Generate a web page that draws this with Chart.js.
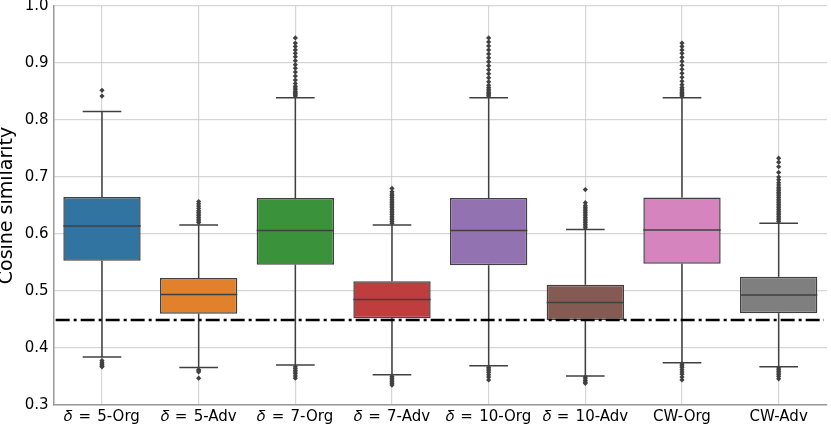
<!DOCTYPE html>
<html>
<head>
<meta charset="utf-8">
<script src="https://cdn.jsdelivr.net/npm/chart.js@4"></script>
<style>
  html, body { margin: 0; padding: 0; background: #fff; overflow: hidden; }
  #outer { position: relative; width: 831px; height: 427px; overflow: hidden; }
  #wrap { position: absolute; left: -4px; top: -8px; width: 835px; height: 437px; }
</style>
</head>
<body>
<div id="outer"><div id="wrap"><canvas id="boxChart"></canvas></div></div>
<script>
// categories and box statistics
const categories = ['\u{1D6FF} \u200A= \u200A5-Org', '\u{1D6FF} \u200A= \u200A5-Adv', '\u{1D6FF} \u200A= \u200A7-Org', '\u{1D6FF} \u200A= \u200A7-Adv',
                    '\u{1D6FF} \u200A= \u200A10-Org', '\u{1D6FF} \u200A= \u200A10-Adv', 'CW-Org', 'CW-Adv'];
const q1         = [0.553, 0.460, 0.546, 0.452, 0.545, 0.449, 0.548, 0.461];
const medians    = [0.614, 0.494, 0.606, 0.485, 0.606, 0.480, 0.607, 0.493];
const q3         = [0.665, 0.523, 0.663, 0.517, 0.663, 0.511, 0.664, 0.525];
const whiskerLow = [0.384, 0.366, 0.370, 0.353, 0.369, 0.351, 0.374, 0.367];
const whiskerHigh= [0.815, 0.616, 0.839, 0.616, 0.839, 0.608, 0.839, 0.619];
const outliers = [
  [0.842, 0.852, 0.378, 0.375, 0.372, 0.370, 0.368, 0.367],
  [0.620, 0.623, 0.626, 0.629, 0.632, 0.635, 0.638, 0.641, 0.645, 0.649, 0.653, 0.657,
   0.362, 0.360, 0.358, 0.347],
  [0.842, 0.844, 0.846, 0.848, 0.850, 0.853, 0.856, 0.859, 0.864, 0.870, 0.877, 0.884,
   0.891, 0.897, 0.904, 0.911, 0.917, 0.923, 0.929, 0.935, 0.944,
   0.367, 0.364, 0.361, 0.358, 0.355, 0.351, 0.347],
  [0.619, 0.622, 0.625, 0.628, 0.631, 0.634, 0.637, 0.640, 0.643, 0.646, 0.649, 0.652,
   0.655, 0.658, 0.661, 0.664, 0.667, 0.670, 0.674, 0.680,
   0.350, 0.347, 0.344, 0.341, 0.338, 0.335],
  [0.842, 0.844, 0.846, 0.848, 0.851, 0.854, 0.857, 0.861, 0.867, 0.874, 0.881, 0.888,
   0.895, 0.902, 0.909, 0.916, 0.923, 0.930, 0.937, 0.944,
   0.366, 0.363, 0.360, 0.357, 0.353, 0.349, 0.344],
  [0.611, 0.614, 0.617, 0.620, 0.623, 0.626, 0.629, 0.632, 0.635, 0.638, 0.641, 0.644,
   0.647, 0.650, 0.655, 0.678,
   0.349, 0.346, 0.343, 0.340, 0.338],
  [0.842, 0.844, 0.846, 0.848, 0.851, 0.854, 0.857, 0.862, 0.868, 0.875, 0.882, 0.889,
   0.896, 0.903, 0.910, 0.917, 0.923, 0.929, 0.935,
   0.372, 0.369, 0.366, 0.362, 0.358, 0.354, 0.349, 0.344],
  [0.622, 0.625, 0.628, 0.631, 0.634, 0.637, 0.640, 0.643, 0.646, 0.649, 0.652, 0.655,
   0.658, 0.661, 0.664, 0.667, 0.670, 0.673, 0.676, 0.679, 0.682, 0.686, 0.690, 0.695,
   0.700, 0.708, 0.718, 0.726, 0.733,
   0.365, 0.362, 0.359, 0.356, 0.353, 0.350, 0.346]
];
const threshold = 0.449;
const boxColors = ['#3274a1', '#e1812c', '#3a923a', '#c03d3e', '#9372b2', '#845b53', '#d684bd', '#7f7f7f'];

const lineColor = '#404040';

let boxRanges = categories.map((c, i) => [q1[i], q3[i]]);
let outlierPoints = [];
outliers.forEach((vals, i) => {
    vals.forEach(v => outlierPoints.push({ x: categories[i], y: v }));
});

// whiskers, caps, medians and the dash-dot threshold line
const boxExtras = {
    id: 'boxExtras',
    afterDraw(chart) {
        const ctx = chart.ctx;
        const xs = chart.scales.x;
        const ys = chart.scales.y;
        const bars = chart.getDatasetMeta(0).data;
        ctx.save();
        ctx.strokeStyle = lineColor;
        ctx.lineWidth = 1.5;
        categories.forEach((c, i) => {
            const x = xs.getPixelForValue(i);
            const half = bars[i].width / 2;
            ctx.beginPath();
            ctx.moveTo(x, ys.getPixelForValue(q3[i]));
            ctx.lineTo(x, ys.getPixelForValue(whiskerHigh[i]));
            ctx.moveTo(x, ys.getPixelForValue(q1[i]));
            ctx.lineTo(x, ys.getPixelForValue(whiskerLow[i]));
            ctx.moveTo(x - half / 2, ys.getPixelForValue(whiskerHigh[i]));
            ctx.lineTo(x + half / 2, ys.getPixelForValue(whiskerHigh[i]));
            ctx.moveTo(x - half / 2, ys.getPixelForValue(whiskerLow[i]));
            ctx.lineTo(x + half / 2, ys.getPixelForValue(whiskerLow[i]));
            ctx.moveTo(x - half, ys.getPixelForValue(medians[i]));
            ctx.lineTo(x + half, ys.getPixelForValue(medians[i]));
            ctx.stroke();
        });
        const area = chart.chartArea;
        const ty = ys.getPixelForValue(threshold);
        ctx.strokeStyle = '#000';
        ctx.lineWidth = 2.5;
        ctx.setLineDash([14, 4, 3, 4]);
        ctx.beginPath();
        ctx.moveTo(area.left + 2, ty);
        ctx.lineTo(area.right - 3, ty);
        ctx.stroke();
        ctx.restore();
    }
};

new Chart(document.getElementById('boxChart'), {
    type: 'bar',
    data: {
        labels: categories,
        datasets: [{
            label: 'box',
            data: boxRanges,
            backgroundColor: boxColors,
            borderColor: lineColor,
            borderWidth: 1.5,
            borderSkipped: false,
            categoryPercentage: 1.0,
            barPercentage: 0.8,
            order: 2
        }, {
            type: 'line',
            label: 'outliers',
            data: outlierPoints,
            showLine: false,
            pointStyle: 'rectRot',
            pointRadius: 2.6,
            pointBackgroundColor: lineColor,
            pointBorderColor: lineColor,
            pointBorderWidth: 0,
            order: 1
        }]
    },
    options: {
        responsive: true,
        maintainAspectRatio: false,
        animation: false,
        layout: { padding: { top: 0, right: 2, left: 0, bottom: 0 } },
        plugins: {
            legend: { display: false },
            tooltip: { enabled: false }
        },
        scales: {
            x: {
                z: 1,
                grid: { color: 'rgba(200,200,200,0.75)', lineWidth: 1.2, offset: false, drawTicks: false },
                border: { color: '#999', width: 1.5 },
                ticks: { color: '#000', font: { family: 'DejaVu Sans', size: 15 }, padding: 3, maxRotation: 0, autoSkip: false }
            },
            y: {
                z: 1,
                min: 0.3,
                max: 1.0,
                grid: { color: 'rgba(200,200,200,0.75)', lineWidth: 1.2, drawTicks: false },
                border: { color: '#999', width: 1.5 },
                ticks: {
                    stepSize: 0.1,
                    color: '#000',
                    font: { family: 'DejaVu Sans', size: 15 },
                    padding: 5,
                    callback: v => v.toFixed(1)
                },
                title: {
                    display: true,
                    text: 'Cosine similarity',
                    color: '#000',
                    font: { family: 'DejaVu Sans', size: 19 },
                    padding: { top: 0, bottom: 1 }
                }
            }
        }
    },
    plugins: [boxExtras]
});
</script>
</body>
</html>
